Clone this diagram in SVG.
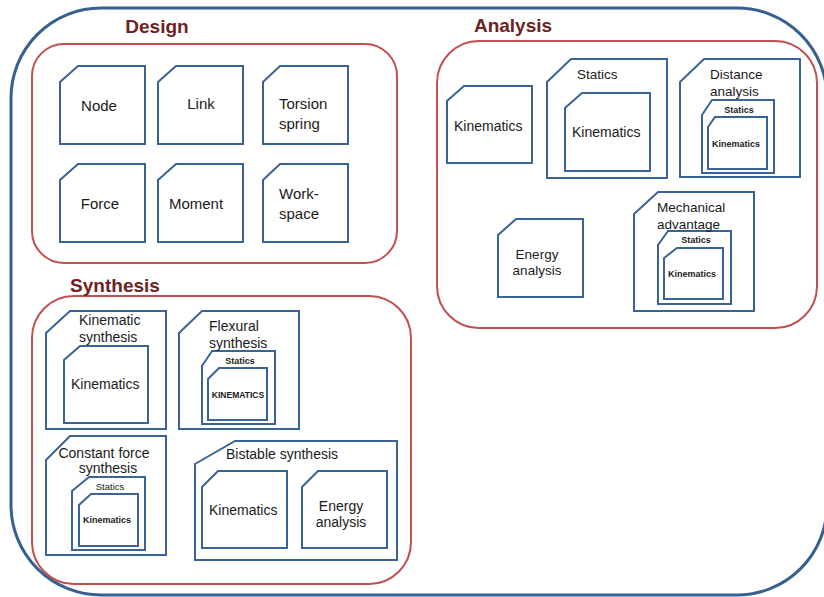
<svg xmlns="http://www.w3.org/2000/svg" width="824" height="597" viewBox="0 0 824 597">
<style>
text{font-family:"Liberation Sans",Arial,sans-serif;fill:#1a1a1a}
.title{font-size:19px;font-weight:bold;fill:#6e2222}
.n{fill:#fff;stroke:#3a6497;stroke-width:2;stroke-linejoin:miter}
.grp{fill:none;stroke:#c0504d;stroke-width:2}
.big{font-size:15px}
.mid{font-size:13.5px}
.k{font-size:14px}
.sb{font-size:9px;font-weight:bold}
.c{text-anchor:middle}
</style>
<rect x="11" y="8" width="816" height="587" rx="90" fill="#fff" stroke="#36608f" stroke-width="3"/>

<g id="design">
<rect class="grp" x="32" y="44" width="365" height="219" rx="32"/>
<text class="title" x="157" y="33" text-anchor="middle">Design</text>
<g id="node"><path class="n" d="M60 82L78 66H145V144H60Z"/><text class="big c" x="99" y="111">Node</text></g>
<g id="link"><path class="n" d="M158 82L176 66H243V144H158Z"/><text class="big c" x="201" y="109">Link</text></g>
<g id="torsion"><path class="n" d="M263 82L280 66H348V144H263Z"/><text class="big" x="279" y="109">Torsion</text><text class="big" x="279" y="129">spring</text></g>
<g id="force"><path class="n" d="M60 180L78 164H145V242H60Z"/><text class="big c" x="100" y="209">Force</text></g>
<g id="moment"><path class="n" d="M158 180L176 164H243V242H158Z"/><text class="big c" x="196" y="209">Moment</text></g>
<g id="workspace"><path class="n" d="M263 180L280 164H348V242H263Z"/><text class="big" x="279" y="199">Work-</text><text class="big" x="279" y="219">space</text></g>
</g>

<g id="analysis">
<rect class="grp" x="437" y="41" width="380" height="287" rx="42"/>
<text class="title" x="513" y="32" text-anchor="middle">Analysis</text>
<g id="a-kin"><path class="n" d="M447 101L464 86H532V163H447Z"/><text class="k" x="454" y="131">Kinematics</text></g>
<g id="a-statics"><path class="n" d="M547 82L571 59H667V178H547Z"/><text class="mid" x="577" y="79">Statics</text>
<path class="n" d="M565 108L582 93H650V171H565Z"/><text class="k" x="572" y="137">Kinematics</text></g>
<g id="a-distance"><path class="n" d="M680 82L704 59H800V177H680Z"/><text class="mid" x="710" y="79">Distance</text><text class="mid" x="710" y="96">analysis</text>
<path class="n" d="M702 115L712 100H774V173H702Z"/><text class="sb c" x="739" y="113">Statics</text>
<path class="n" d="M708 127L715 117H767V169H708Z"/><text class="sb c" x="736" y="147">Kinematics</text></g>
<g id="a-energy"><path class="n" d="M498 235L516 219H583V297H498Z"/><text class="mid c" x="537" y="259">Energy</text><text class="mid c" x="537" y="275">analysis</text></g>
<g id="a-mech"><path class="n" d="M634 214L658 192H754V311H634Z"/><text class="mid" x="657" y="212">Mechanical</text>
<path class="n" d="M658 245L668 231H731V304H658Z"/><text class="mid" x="657" y="229">advantage</text><text class="sb c" x="696" y="243">Statics</text>
<path class="n" d="M664 258L677 248H723V299H664Z"/><text class="sb c" x="692" y="277">Kinematics</text></g>
</g>

<g id="synthesis">
<rect class="grp" x="32" y="296" width="379" height="288" rx="42"/>
<text class="title" x="115" y="292" text-anchor="middle">Synthesis</text>
<g id="s-kin"><path class="n" d="M46 333L70 311H166V429H46Z"/><text class="k" x="79" y="325">Kinematic</text>
<path class="n" d="M64 360L80 346H148V423H64Z"/><text class="k" x="79" y="342">synthesis</text><text class="k" x="71" y="389">Kinematics</text></g>
<g id="s-flex"><path class="n" d="M179 333L202 311H299V429H179Z"/><text class="k" x="209" y="331">Flexural</text>
<path class="n" d="M202 366L212 351H275V424H202Z"/><text class="k" x="209" y="348">synthesis</text><text class="sb c" x="240" y="364">Statics</text>
<path class="n" d="M208 379L219 368H267V420H208Z"/><text class="sb c" x="238" y="398" style="font-size:8.5px">KINEMATICS</text></g>
<g id="s-const"><path class="n" d="M46 460L70 436H166V555H46Z"/><text class="k c" x="104" y="458">Constant force</text><text class="k c" x="108" y="473">synthesis</text>
<path class="n" d="M72 491L89 477H145V550H72Z"/><text class="c" x="110" y="490" style="font-size:9.5px">Statics</text>
<path class="n" d="M79 505L91 494H138V546H79Z"/><text class="sb c" x="107" y="523">Kinematics</text></g>
<g id="s-bist"><path class="n" d="M195 464L235 441H397V560H195Z"/><text class="k" x="226" y="459">Bistable synthesis</text>
<path class="n" d="M202 487L218 471H287V548H202Z"/><text class="k" x="209" y="515">Kinematics</text>
<path class="n" d="M302 487L318 471H387V548H302Z"/><text class="k c" x="341" y="511">Energy</text><text class="k c" x="341" y="527">analysis</text></g>
</g>
<g id="connectors"/>
</svg>
